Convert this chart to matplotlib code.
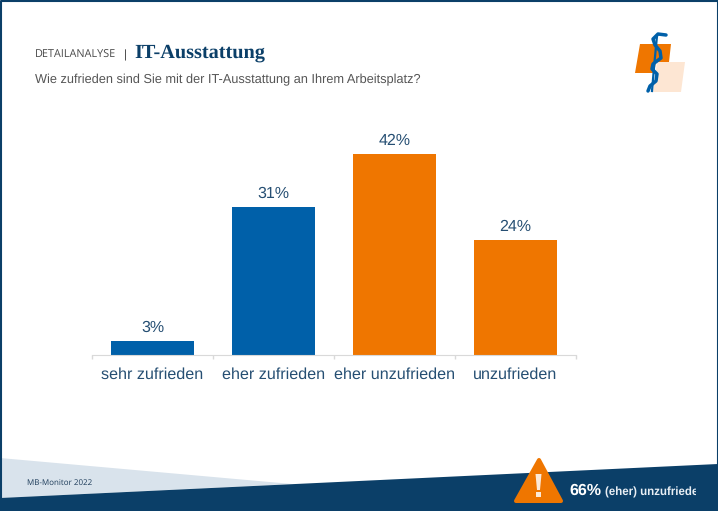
"""Detailanalyse IT-Ausstattung, bar chart slide."""

import matplotlib
matplotlib.use("Agg")
import matplotlib.pyplot as plt
from matplotlib.patches import Polygon, Rectangle

W, H = 718, 511
NAVY = "#0b3f68"
BLUE = "#0060a9"
ORANGE = "#ef7600"
LABEL = "#264f73"

categories = ["sehr zufrieden", "eher zufrieden", "eher unzufrieden", "unzufrieden"]
values = [3, 31, 42, 24]
bar_colors = [BLUE, BLUE, ORANGE, ORANGE]

plt.rcParams["font.family"] = ["Liberation Sans", "DejaVu Sans"]
plt.rcParams["text.hinting"] = "no_hinting"

fig = plt.figure(figsize=(W / 100, H / 100), dpi=100, facecolor="white")

# background layer in pixel coords (y down)
bg = fig.add_axes([0, 0, 1, 1])
bg.set_xlim(0, W)
bg.set_ylim(H, 0)
bg.axis("off")

# footer shapes
bg.add_patch(Polygon([(0, 458), (292, 484), (0, 498)], fc="#d9e3ec", ec="none"))
bg.add_patch(Polygon([(0, 498), (718, 464), (718, 511), (0, 511)], fc=NAVY, ec="none"))
bg.add_patch(Polygon([(539, 460), (561, 501), (516, 501)], fc=ORANGE, ec=ORANGE,
                     lw=2.9, joinstyle="round"))
bg.add_patch(Polygon([(535.5, 474), (541.5, 474), (540, 490), (537, 490)], fc="#fbe9d8", ec="none"))
bg.add_patch(Rectangle((536, 492), 5, 5, fc="#fbe9d8", ec="none"))
bg.text(27, 483, "MB-Monitor 2022", fontsize=5.8, color="#1d3c5a", va="center",
        family="Open Sans")
bg.text(569, 491, "66%", fontsize=11.5, color="white", weight="bold", va="center")
eher = bg.text(605, 492, "(eher) unzufrieden", fontsize=8.3, color="#e8eef4", weight="bold",
               va="center", clip_on=True)
eher.set_clip_path(Rectangle((600, 470), 96, 40, transform=bg.transData))

# border
bg.plot([0.5, 0.5, W - 0.5, W - 0.5], [H, 1, 1, 464], color=NAVY, lw=1.5, clip_on=False)

# header
bg.text(35, 55, "DETAILANALYSE", fontsize=7.8, color="#4a4a4a", va="center", family="Open Sans")
bg.text(125, 55, "|", fontsize=8.5, color="#4a4a4a", va="center", ha="center")
bg.text(134, 53, "IT-Ausstattung", fontsize=14.6, color=NAVY, weight="bold", va="center",
        family="Liberation Serif")
bg.text(35, 80, "Wie zufrieden sind Sie mit der IT-Ausstattung an Ihrem Arbeitsplatz?",
        fontsize=9.2, color="#555555", va="center")

# logo
bg.add_patch(Polygon([(640, 44), (671, 44), (669, 62), (656, 62), (654, 73), (635, 73)],
                     fc=ORANGE, ec="none"))
bg.add_patch(Polygon([(657, 62), (685, 62), (681, 92), (653, 92)], fc="#fde6d3", ec="none"))
bg.plot([657, 654.5, 652], [36, 62, 91], color=BLUE, lw=1.6)
bg.plot([666, 658, 653, 655, 660, 661, 653, 652, 657, 656, 650, 648],
        [35, 34, 39, 45, 51, 58, 64, 69, 74, 81, 86, 91], color=BLUE, lw=2.5,
        solid_joinstyle="round", solid_capstyle="round")

# chart
ax = fig.add_axes([92 / W, 1 - 355 / H, 484 / W, 220 / H], facecolor="none")
ax.bar(range(len(values)), values, width=0.69, color=bar_colors)
for i, v in enumerate(values):
    ax.annotate(f"{v}%", (i, v), xytext=(0, 4), textcoords="offset points", ha="center",
                va="bottom", fontsize=11.5, color=LABEL)

ax.set_xlim(-0.5, 3.5)
ax.set_ylim(0, 46)
ax.set_yticks([])
ax.set_xticks([-0.5, 0.5, 1.5, 2.5, 3.5])
ax.set_xticklabels([])
ax.set_xticks(range(len(categories)), categories, minor=True, fontsize=11.6, color=LABEL)
ax.tick_params(axis="x", which="major", length=3, color="#d9d9d9", width=1)
ax.tick_params(axis="x", which="minor", length=0, pad=9)
for side in ["top", "left", "right"]:
    ax.spines[side].set_visible(False)
ax.spines["bottom"].set_color("#d9d9d9")

fig.savefig("out.png", dpi=100)
